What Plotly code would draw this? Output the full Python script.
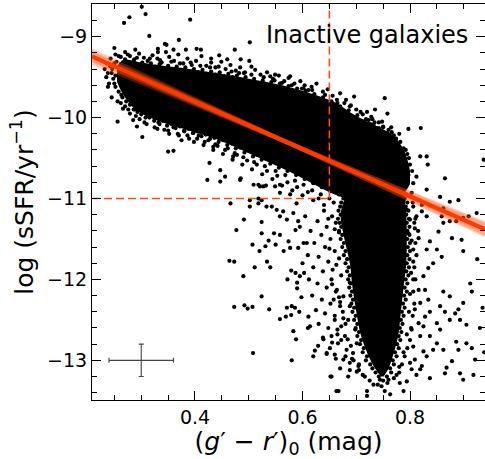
import plotly.graph_objects as go

# ---------------- axis ranges ----------------
X_RANGE = [0.2084, 0.9395]
Y_RANGE = [-13.49, -8.596]

# ---------------- dense star-forming sequence (edges) -----
band_x  = [0.255, 0.265, 0.280, 0.300, 0.340, 0.380, 0.420, 0.460, 0.500, 0.540,
           0.580, 0.620, 0.660, 0.700, 0.740, 0.770, 0.790, 0.800]
band_hi = [-9.38, -9.29, -9.29, -9.32, -9.36, -9.39, -9.43, -9.47, -9.52, -9.57,
           -9.63, -9.71, -9.81, -9.98, -10.11, -10.23, -10.42, -10.66]
band_lo = [-9.56, -9.70, -9.84, -9.95, -10.06, -10.14, -10.22, -10.32, -10.44, -10.56,
           -10.68, -10.82, -10.95, -11.03, -11.04, -10.99, -10.92, -10.82]

# ---------------- dense passive sequence core ----------------
core_y  = [-10.70, -10.85, -11.0, -11.2, -11.5, -11.8, -12.1, -12.4, -12.7, -12.95, -13.1, -13.2]
core_lo = [0.705, 0.695, 0.679, 0.671, 0.678, 0.688, 0.693, 0.700, 0.709, 0.723, 0.735, 0.746]
core_hi = [0.785, 0.788, 0.790, 0.793, 0.794, 0.793, 0.788, 0.783, 0.778, 0.768, 0.760, 0.751]

# ---------------- individual galaxies (x = g'-r', y = log sSFR) -------------
outliers_top = [
    (0.301, -8.63), (0.278, -8.76), (0.268, -8.83), (0.308, -8.72), (0.315, -8.99),
    (0.391, -8.79), (0.250, -9.14), (0.344, -9.09), (0.347, -9.10), (0.331, -9.15),
    (0.331, -9.19), (0.346, -9.19), (0.360, -9.16), (0.370, -9.04), (0.383, -9.16),
    (0.403, -9.15), (0.411, -9.16), (0.289, -9.16), (0.430, -9.27), (0.445, -9.23),
    (0.460, -9.28), (0.474, -9.16), (0.485, -9.28), (0.502, -9.07), (0.501, -9.30),
    (0.505, -9.37), (0.577, -9.49), (0.599, -9.64), (0.611, -9.66), (0.549, -9.47),
    (0.540, -9.49), (0.530, -9.58), (0.491, -9.45), (0.636, -9.80), (0.660, -9.86),
    (0.665, -9.82), (0.681, -9.78), (0.696, -9.74), (0.753, -9.76), (0.758, -9.95),
    (0.735, -9.90), (0.704, -10.05), (0.723, -10.03), (0.732, -10.09), (0.744, -10.17),
    (0.756, -10.23), (0.766, -10.36), (0.797, -10.14), (0.820, -10.13),
]
outliers_low = [
    (0.256, -10.05), (0.266, -9.89), (0.292, -10.11), (0.302, -10.24), (0.285, -10.03),
    (0.350, -10.42), (0.360, -10.41), (0.375, -10.28), (0.427, -10.56), (0.423, -10.77),
    (0.447, -10.79), (0.447, -10.65), (0.456, -10.73), (0.485, -10.75), (0.466, -11.06),
    (0.491, -11.26), (0.477, -11.39), (0.434, -10.36), (0.397, -10.19), (0.471, -10.48),
    (0.509, -10.83), (0.518, -10.83), (0.527, -10.85), (0.549, -10.85), (0.558, -10.83),
    (0.484, -10.77), (0.502, -11.02), (0.518, -11.00), (0.533, -11.10),
]
green_valley = [
    (0.524, -11.29), (0.524, -11.43), (0.507, -11.57), (0.520, -11.65), (0.537, -11.52),
    (0.531, -11.59), (0.547, -11.43), (0.550, -11.57), (0.558, -11.45), (0.565, -11.65),
    (0.574, -11.53), (0.577, -11.61), (0.587, -11.39), (0.592, -11.61), (0.602, -11.55),
    (0.608, -11.55), (0.464, -11.77), (0.473, -11.78), (0.511, -11.85), (0.534, -11.78),
    (0.540, -11.85), (0.490, -11.96), (0.572, -12.00), (0.579, -11.89), (0.587, -11.92),
    (0.590, -12.04), (0.595, -11.96), (0.603, -11.92), (0.590, -12.11), (0.524, -12.21),
    (0.473, -12.34), (0.492, -12.32), (0.498, -12.36), (0.507, -12.34), (0.538, -12.37),
    (0.558, -12.49), (0.569, -12.46), (0.571, -12.35), (0.580, -12.33), (0.586, -12.35),
    (0.579, -12.44), (0.594, -12.40), (0.583, -12.64), (0.588, -12.74), (0.611, -12.46),
    (0.614, -12.58), (0.623, -12.88), (0.629, -12.82), (0.508, -12.91), (0.580, -13.00),
    (0.652, -13.20), (0.663, -13.38), (0.645, -12.91), (0.651, -12.85), (0.639, -12.74),
    (0.502, -11.10), (0.518, -11.06), (0.524, -11.02), (0.521, -10.85), (0.532, -10.84),
    (0.543, -11.10), (0.552, -11.14), (0.558, -11.22), (0.564, -11.16), (0.571, -11.26),
    (0.583, -11.18), (0.592, -11.28), (0.577, -10.95), (0.589, -11.06), (0.558, -10.93),
]
red_right = [
    (0.862, -12.15), (0.874, -12.21), (0.899, -12.29), (0.915, -12.15), (0.856, -12.33),
    (0.865, -12.40), (0.884, -12.42), (0.890, -12.37), (0.874, -12.50), (0.893, -12.50),
    (0.905, -12.56), (0.837, -12.40), (0.825, -12.58), (0.837, -12.70), (0.850, -12.79),
    (0.886, -12.77), (0.890, -12.87), (0.905, -12.79), (0.915, -12.85), (0.921, -12.99),
    (0.878, -13.01), (0.868, -13.09), (0.865, -13.16), (0.893, -13.16), (0.899, -13.24),
    (0.918, -13.18), (0.837, -13.22), (0.819, -13.11), (0.812, -13.18), (0.803, -13.11),
    (0.794, -13.26), (0.788, -13.38), (0.763, -13.42), (0.753, -13.38), (0.747, -13.32),
    (0.720, -13.38), (0.720, -13.44), (0.667, -13.38), (0.654, -13.20), (0.685, -13.20),
    (0.701, -13.14), (0.716, -13.20), (0.732, -13.30), (0.744, -13.24), (0.760, -13.24),
    (0.775, -13.18), (0.781, -13.28), (0.806, -12.00), (0.816, -12.13), (0.828, -12.13),
    (0.834, -12.25), (0.819, -12.29), (0.809, -12.37), (0.828, -12.46), (0.816, -12.54),
    (0.803, -12.62), (0.819, -12.70), (0.806, -12.83), (0.825, -12.89), (0.831, -12.95),
    (0.809, -12.99), (0.822, -13.07), (0.800, -13.03), (0.850, -12.54), (0.856, -12.62),
    (0.843, -12.87), (0.862, -12.87), (0.935, -12.35), (0.930, -12.60), (0.938, -12.90),
    (0.925, -11.75), (0.912, -12.05),
]
red_left = [
    (0.654, -12.00), (0.664, -12.13), (0.658, -12.25), (0.670, -12.33), (0.660, -12.50),
    (0.672, -12.58), (0.654, -12.70), (0.666, -12.79), (0.682, -12.87), (0.660, -12.93),
    (0.676, -12.99), (0.688, -13.03), (0.694, -12.91), (0.679, -12.70), (0.685, -12.50),
    (0.688, -12.33), (0.676, -12.21), (0.688, -12.04), (0.698, -12.62), (0.701, -12.79),
    (0.704, -13.07), (0.640, -11.15), (0.655, -11.22), (0.628, -11.28), (0.645, -11.35),
    (0.662, -11.30), (0.615, -11.40), (0.635, -11.45), (0.652, -11.50), (0.668, -11.42),
    (0.622, -11.55), (0.642, -11.60), (0.660, -11.65), (0.610, -11.70), (0.630, -11.72),
    (0.648, -11.78), (0.668, -11.74), (0.620, -11.85), (0.638, -11.90), (0.656, -11.88),
    (0.672, -11.95), (0.612, -12.00), (0.628, -12.05), (0.645, -12.10), (0.662, -12.15),
    (0.618, -12.20), (0.636, -12.25), (0.652, -12.30), (0.670, -12.28), (0.625, -12.38),
    (0.642, -12.42), (0.660, -12.45), (0.675, -12.40), (0.630, -12.55), (0.648, -12.60),
    (0.665, -12.62), (0.680, -12.55), (0.638, -12.72), (0.655, -12.78), (0.672, -12.75),
    (0.690, -12.82), (0.645, -12.92), (0.662, -12.98), (0.680, -12.95), (0.695, -13.00),
    (0.670, -13.10), (0.688, -13.12), (0.705, -13.05), (0.712, -13.18), (0.725, -13.25),
    (0.740, -13.30), (0.758, -13.28), (0.770, -13.22), (0.780, -13.15), (0.785, -13.05),
    (0.790, -12.95), (0.795, -12.85), (0.800, -12.75), (0.802, -12.60), (0.805, -12.45),
    (0.808, -12.30), (0.806, -12.15), (0.810, -12.00), (0.808, -11.85), (0.812, -11.70),
    (0.810, -11.55), (0.815, -11.40), (0.810, -11.25), (0.605, -11.22), (0.595, -11.35),
    (0.600, -11.80), (0.598, -12.22), (0.610, -12.60), (0.620, -12.95), (0.682, -11.10),
    (0.678, -11.25), (0.658, -11.05), (0.648, -11.25), (0.660, -11.38), (0.650, -11.62),
    (0.663, -11.82), (0.655, -12.06), (0.668, -12.22), (0.676, -12.48), (0.665, -12.68),
    (0.684, -12.74), (0.692, -12.98), (0.705, -13.12), (0.805, -11.05), (0.808, -11.30),
    (0.803, -11.52), (0.806, -11.78), (0.802, -11.92), (0.800, -12.18), (0.798, -12.40),
    (0.794, -12.68), (0.788, -12.90), (0.780, -13.08),
]
red_core_edge = [
    (0.690, -10.90), (0.682, -10.95), (0.676, -11.00), (0.672, -11.05), (0.670, -11.10),
    (0.667, -11.15), (0.671, -11.20), (0.666, -11.25), (0.669, -11.30), (0.672, -11.35),
    (0.668, -11.40), (0.674, -11.45), (0.671, -11.50), (0.677, -11.55), (0.674, -11.60),
    (0.680, -11.65), (0.677, -11.70), (0.683, -11.75), (0.680, -11.80), (0.686, -11.85),
    (0.683, -11.90), (0.688, -11.95), (0.685, -12.00), (0.690, -12.05), (0.687, -12.10),
    (0.692, -12.15), (0.689, -12.20), (0.694, -12.25), (0.691, -12.30), (0.696, -12.35),
    (0.693, -12.40), (0.699, -12.45), (0.696, -12.50), (0.702, -12.55), (0.699, -12.60),
    (0.705, -12.65), (0.702, -12.70), (0.709, -12.75), (0.707, -12.80), (0.714, -12.85),
    (0.712, -12.90), (0.720, -12.95), (0.718, -13.00), (0.726, -13.05), (0.730, -13.10),
    (0.736, -13.15), (0.742, -13.20),
    (0.788, -10.90), (0.793, -10.95), (0.790, -11.00), (0.795, -11.05), (0.792, -11.10),
    (0.797, -11.15), (0.793, -11.20), (0.798, -11.25), (0.794, -11.30), (0.799, -11.35),
    (0.795, -11.40), (0.799, -11.45), (0.795, -11.50), (0.800, -11.55), (0.796, -11.60),
    (0.800, -11.65), (0.795, -11.70), (0.799, -11.75), (0.794, -11.80), (0.798, -11.85),
    (0.793, -11.90), (0.797, -11.95), (0.792, -12.00), (0.795, -12.05), (0.790, -12.10),
    (0.794, -12.15), (0.789, -12.20), (0.792, -12.25), (0.787, -12.30), (0.790, -12.35),
    (0.785, -12.40), (0.788, -12.45), (0.783, -12.50), (0.786, -12.55), (0.781, -12.60),
    (0.784, -12.65), (0.779, -12.70), (0.782, -12.75), (0.776, -12.80), (0.779, -12.85),
    (0.772, -12.90), (0.775, -12.95), (0.768, -13.00), (0.770, -13.05), (0.763, -13.10),
    (0.765, -13.15), (0.757, -13.20), (0.750, -13.25),
]
junction = [
    (0.819, -10.48), (0.831, -10.48), (0.865, -10.75), (0.937, -10.52), (0.800, -10.58),
    (0.812, -10.73), (0.806, -10.81), (0.831, -10.89), (0.822, -11.08), (0.856, -10.98),
    (0.890, -11.02), (0.862, -11.12), (0.874, -11.28), (0.886, -11.28), (0.909, -11.22),
    (0.853, -11.41), (0.878, -11.49), (0.896, -11.51), (0.899, -11.65), (0.837, -11.53),
    (0.831, -11.63), (0.850, -11.63), (0.859, -11.72), (0.843, -11.80), (0.834, -11.86),
    (0.825, -11.96), (0.806, -11.63), (0.816, -11.49), (0.800, -11.26), (0.809, -11.37),
    (0.797, -11.43), (0.812, -11.22), (0.778, -10.89), (0.788, -11.02), (0.794, -11.14),
    (0.803, -10.93), (0.790, -10.77), (0.784, -10.65), (0.797, -10.71), (0.766, -10.42),
    (0.778, -10.50), (0.784, -10.56), (0.833, -10.58), (0.874, -11.04), (0.859, -11.22),
    (0.862, -11.30), (0.899, -11.24), (0.924, -11.18), (0.806, -11.10), (0.822, -11.16),
    (0.831, -11.22), (0.792, -10.40), (0.798, -10.50), (0.804, -10.66),
]
sf_upper = [
    (0.236, -9.33), (0.243, -9.27), (0.252, -9.22), (0.262, -9.25), (0.270, -9.19),
    (0.279, -9.24), (0.287, -9.28), (0.296, -9.21), (0.305, -9.26), (0.312, -9.30),
    (0.321, -9.23), (0.330, -9.27), (0.338, -9.32), (0.352, -9.25), (0.361, -9.30),
    (0.369, -9.22), (0.378, -9.33), (0.386, -9.27), (0.394, -9.35), (0.402, -9.30),
    (0.412, -9.24), (0.421, -9.36), (0.430, -9.32), (0.438, -9.38), (0.449, -9.31),
    (0.457, -9.40), (0.466, -9.35), (0.476, -9.42), (0.484, -9.38), (0.493, -9.44),
    (0.512, -9.41), (0.522, -9.47), (0.534, -9.44), (0.545, -9.52), (0.556, -9.48),
    (0.566, -9.55), (0.574, -9.51), (0.585, -9.58), (0.596, -9.55), (0.604, -9.60),
    (0.617, -9.62), (0.626, -9.58), (0.638, -9.68), (0.647, -9.65), (0.656, -9.73),
    (0.670, -9.70), (0.678, -9.82), (0.688, -9.86), (0.700, -9.90), (0.712, -9.96),
    (0.720, -9.93), (0.730, -10.02), (0.742, -10.06), (0.750, -10.12), (0.760, -10.15),
    (0.770, -10.22), (0.232, -9.40), (0.235, -9.50), (0.240, -9.58), (0.238, -9.45),
    (0.242, -9.36), (0.245, -9.45), (0.248, -9.52), (0.246, -9.40), (0.250, -9.58),
    (0.250, -9.33), (0.252, -9.48),
]
sf_upper_edge = [
    (0.254, -9.31), (0.262, -9.34), (0.270, -9.28), (0.278, -9.33), (0.286, -9.30),
    (0.294, -9.35), (0.302, -9.32), (0.310, -9.36), (0.318, -9.33), (0.326, -9.37),
    (0.334, -9.34), (0.342, -9.39), (0.350, -9.36), (0.358, -9.40), (0.366, -9.37),
    (0.374, -9.41), (0.382, -9.38), (0.390, -9.43), (0.398, -9.40), (0.406, -9.44),
    (0.414, -9.41), (0.422, -9.46), (0.430, -9.43), (0.438, -9.47), (0.446, -9.44),
    (0.454, -9.49), (0.462, -9.46), (0.470, -9.50), (0.478, -9.48), (0.486, -9.53),
    (0.494, -9.50), (0.502, -9.55), (0.510, -9.52), (0.518, -9.57), (0.526, -9.54),
    (0.534, -9.59), (0.542, -9.56), (0.550, -9.62), (0.558, -9.58), (0.566, -9.64),
    (0.574, -9.61), (0.582, -9.67), (0.590, -9.64), (0.598, -9.70), (0.606, -9.67),
    (0.614, -9.74), (0.622, -9.71), (0.630, -9.78), (0.638, -9.75), (0.646, -9.83),
    (0.654, -9.80), (0.662, -9.88), (0.670, -9.86), (0.678, -9.93), (0.686, -9.91),
    (0.694, -9.99), (0.702, -9.97), (0.710, -10.04), (0.718, -10.02), (0.726, -10.08),
    (0.734, -10.06), (0.742, -10.13), (0.750, -10.11), (0.758, -10.19), (0.766, -10.18),
    (0.774, -10.26), (0.782, -10.30), (0.788, -10.38), (0.795, -10.45),
    (0.258, -9.24), (0.275, -9.22), (0.292, -9.26), (0.316, -9.27), (0.335, -9.29),
    (0.356, -9.31), (0.372, -9.33), (0.392, -9.32), (0.410, -9.36), (0.428, -9.38),
    (0.444, -9.37), (0.468, -9.43), (0.482, -9.45), (0.505, -9.47), (0.528, -9.50),
    (0.548, -9.54), (0.562, -9.57), (0.580, -9.60), (0.602, -9.64), (0.618, -9.66),
    (0.642, -9.72), (0.664, -9.78), (0.690, -9.85), (0.708, -9.93), (0.728, -9.99),
    (0.748, -10.05), (0.765, -10.12), (0.780, -10.20),
]
sf_lower = [
    (0.238, -9.62), (0.245, -9.75), (0.256, -9.80), (0.263, -9.72), (0.270, -9.86),
    (0.279, -9.95), (0.288, -9.90), (0.297, -10.02), (0.306, -10.06), (0.315, -10.00),
    (0.325, -10.12), (0.334, -10.08), (0.343, -10.15), (0.352, -10.20), (0.360, -10.12),
    (0.370, -10.22), (0.380, -10.17), (0.389, -10.26), (0.398, -10.30), (0.407, -10.22),
    (0.416, -10.34), (0.425, -10.28), (0.434, -10.40), (0.442, -10.35), (0.452, -10.45),
    (0.461, -10.38), (0.470, -10.52), (0.478, -10.46), (0.488, -10.58), (0.497, -10.53),
    (0.506, -10.64), (0.515, -10.58), (0.525, -10.70), (0.534, -10.66), (0.544, -10.76),
    (0.553, -10.72), (0.562, -10.84), (0.572, -10.80), (0.581, -10.90), (0.590, -10.86),
    (0.600, -10.96), (0.610, -10.92), (0.620, -11.02), (0.630, -11.00), (0.640, -11.08),
]
sf_lower_edge = [
    (0.252, -9.62), (0.258, -9.68), (0.265, -9.75), (0.272, -9.80), (0.279, -9.84),
    (0.286, -9.90), (0.293, -9.93), (0.300, -9.96), (0.308, -10.00), (0.316, -9.98),
    (0.324, -10.04), (0.332, -10.06), (0.340, -10.04), (0.348, -10.10), (0.356, -10.08),
    (0.364, -10.13), (0.372, -10.11), (0.380, -10.16), (0.388, -10.14), (0.396, -10.19),
    (0.404, -10.17), (0.412, -10.23), (0.420, -10.21), (0.428, -10.26), (0.436, -10.25),
    (0.444, -10.30), (0.452, -10.28), (0.460, -10.34), (0.468, -10.32), (0.476, -10.38),
    (0.484, -10.37), (0.492, -10.43), (0.500, -10.41), (0.508, -10.48), (0.516, -10.46),
    (0.524, -10.52), (0.532, -10.51), (0.540, -10.57), (0.548, -10.55), (0.556, -10.62),
    (0.564, -10.60), (0.572, -10.66), (0.580, -10.65), (0.588, -10.71), (0.596, -10.69),
    (0.604, -10.76), (0.612, -10.74), (0.620, -10.81), (0.628, -10.79), (0.636, -10.86),
    (0.644, -10.85), (0.652, -10.91), (0.660, -10.90), (0.668, -10.95),
    (0.262, -9.82), (0.276, -9.90), (0.290, -9.98), (0.310, -10.08), (0.330, -10.14),
    (0.350, -10.16), (0.368, -10.20), (0.386, -10.22), (0.404, -10.26), (0.418, -10.30),
    (0.438, -10.33), (0.456, -10.40), (0.474, -10.44), (0.490, -10.49), (0.510, -10.55),
    (0.530, -10.60), (0.550, -10.66), (0.568, -10.71), (0.586, -10.78), (0.602, -10.83),
    (0.618, -10.90), (0.634, -10.95), (0.650, -11.00),
]

# ---------------- MCMC fit samples: y = icpt + slope*(x - pivot) -----------
fit_pivot = 0.58
fit_slope = [-2.72, -2.79, -2.86, -2.98, -3.05, -3.12]
fit_icpt  = [-10.330, -10.325, -10.335, -10.325, -10.335, -10.330]
best_slope, best_icpt = -2.92, -10.330

# ---------------- selection cuts & typical errors ----------------
color_cut = 0.65
ssfr_cut = -11.0
err_x0, err_y0, err_dx, err_dy = 0.30, -13.0, 0.06, 0.20

RED = "rgb(255,58,0)"
DASH_RED = "rgb(255,75,20)"
FONT = "DejaVu Sans"

fig = go.Figure()

# dense star-forming band
fig.add_trace(go.Scatter(x=band_x, y=band_lo, mode="lines",
                         line=dict(width=0, shape="spline", color="black"),
                         hoverinfo="skip", showlegend=False))
fig.add_trace(go.Scatter(x=band_x, y=band_hi, mode="lines", fill="tonexty",
                         fillcolor="black",
                         line=dict(width=0, shape="spline", color="black"),
                         hoverinfo="skip", showlegend=False))
# dense passive core
fig.add_trace(go.Scatter(x=core_lo, y=core_y, mode="lines",
                         line=dict(width=0, shape="spline", color="black"),
                         hoverinfo="skip", showlegend=False))
fig.add_trace(go.Scatter(x=core_hi, y=core_y, mode="lines", fill="tonextx",
                         fillcolor="black",
                         line=dict(width=0, shape="spline", color="black"),
                         hoverinfo="skip", showlegend=False))

groups = [outliers_top, outliers_low, green_valley, red_right, red_left,
          red_core_edge, junction, sf_upper, sf_upper_edge, sf_lower, sf_lower_edge]
px, py = [], []
for g in groups:
    for a, b in g:
        px.append(a)
        py.append(b)
fig.add_trace(go.Scatter(x=px, y=py, mode="markers",
                         marker=dict(size=4.2, color="black", line=dict(width=0)),
                         showlegend=False))

# dashed selection lines
fig.add_trace(go.Scatter(x=[X_RANGE[0], color_cut], y=[ssfr_cut, ssfr_cut], mode="lines",
                         line=dict(color=DASH_RED, width=1.6, dash="8px,4px"),
                         showlegend=False))
fig.add_trace(go.Scatter(x=[color_cut, color_cut], y=[ssfr_cut, Y_RANGE[1]], mode="lines",
                         line=dict(color=DASH_RED, width=1.6, dash="8px,4px"),
                         showlegend=False))

# fit band
xs = [X_RANGE[0], X_RANGE[1]]
for s, c in zip(fit_slope, fit_icpt):
    ys = [c + s * (v - fit_pivot) for v in xs]
    fig.add_trace(go.Scatter(x=xs, y=ys, mode="lines",
                             line=dict(color="rgba(255,80,20,0.30)", width=4),
                             showlegend=False, hoverinfo="skip"))
fig.add_trace(go.Scatter(x=xs, y=[best_icpt + best_slope * (v - fit_pivot) for v in xs],
                         mode="lines", line=dict(color=RED, width=4.2),
                         showlegend=False, hoverinfo="skip"))

# typical error bar
fig.add_trace(go.Scatter(x=[err_x0], y=[err_y0], mode="markers",
                         marker=dict(size=1, color="#444"),
                         error_x=dict(type="constant", value=err_dx, color="#444",
                                      thickness=1.1, width=2.5),
                         error_y=dict(type="constant", value=err_dy, color="#444",
                                      thickness=1.1, width=2.5),
                         showlegend=False))

# invisible trace on the right-hand axis (for right ticks)
fig.add_trace(go.Scatter(x=[None], y=[None], yaxis="y2", showlegend=False))

axis_common = dict(showgrid=False, zeroline=False, showline=True, linecolor="black",
                   linewidth=1, ticks="inside", ticklen=9, tickwidth=1,
                   tickcolor="black", tickfont=dict(family=FONT, size=19, color="black"))

fig.update_layout(
    width=485, height=459,
    margin=dict(l=92, r=0, t=4, b=59),
    plot_bgcolor="white", paper_bgcolor="white",
    font=dict(family=FONT, color="black"),
    xaxis=dict(range=X_RANGE, dtick=0.2, tick0=0, tickformat=".1f", mirror="ticks",
               minor=dict(ticks="inside", ticklen=5, dtick=0.05, tick0=0,
                          tickcolor="black", tickwidth=1),
               title=dict(text="(<i>g</i>′ − <i>r</i>′)<sub>0</sub> (mag)",
                          font=dict(family=FONT, size=25), standoff=6),
               **axis_common),
    yaxis=dict(range=Y_RANGE, dtick=1, tick0=0, mirror=False,
               minor=dict(ticks="inside", ticklen=5, dtick=0.2, tick0=0,
                          tickcolor="black", tickwidth=1),
               title=dict(text="log (sSFR/yr<sup>−1</sup>)",
                          font=dict(family=FONT, size=25), standoff=6),
               **axis_common),
    yaxis2=dict(range=Y_RANGE, overlaying="y", side="right", anchor="x",
                showgrid=False, zeroline=False, showline=False, showticklabels=False,
                ticks="inside", ticklen=9, tickwidth=1, tickcolor="black",
                dtick=1, tick0=0,
                minor=dict(ticks="inside", ticklen=5, dtick=0.2, tick0=0,
                           tickcolor="black", tickwidth=1)),
    annotations=[dict(text="Inactive galaxies", xref="paper", yref="paper",
                      x=0.962, y=0.921, xanchor="right", yanchor="middle",
                      showarrow=False, font=dict(family=FONT, size=24, color="black"))],
)

fig.write_html("out.html")
